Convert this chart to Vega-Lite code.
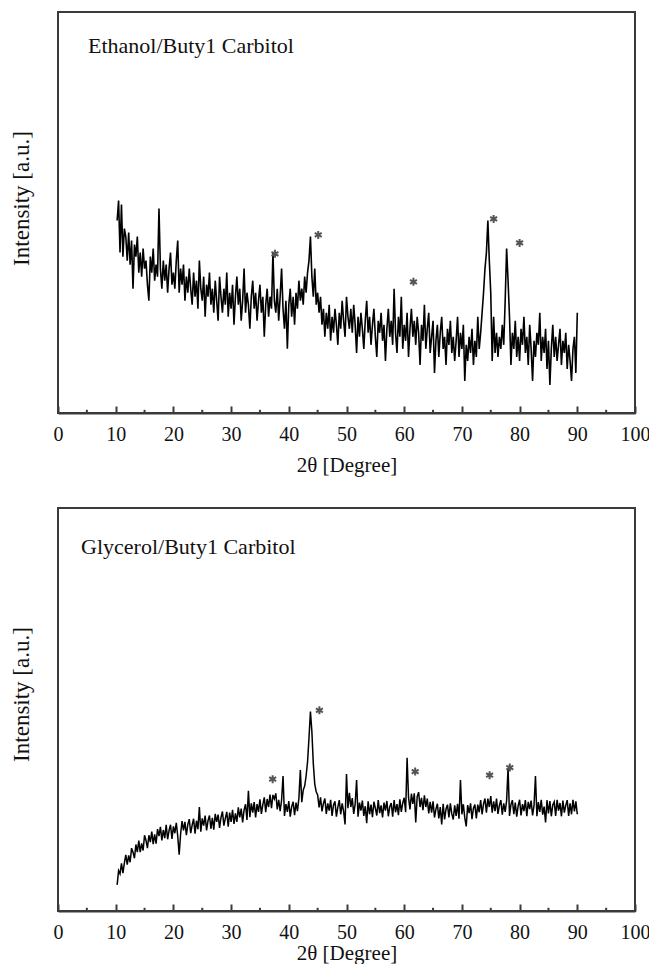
{
"$schema":"https://vega.github.io/schema/vega-lite/v6.json",
"padding":{"left":9,"top":11,"right":0,"bottom":0},
"spacing":31,
"config":{"font":"Liberation Serif","view":{"stroke":"#3a3a3a","strokeWidth":2},"axis":{"labelFont":"Liberation Serif","titleFont":"Liberation Serif","labelColor":"#111","titleColor":"#111","titleFontWeight":"normal","grid":false}},
"datasets":{
"xrd":[
{"x":10.25,"a":48,"b":6.5},{"x":10.5,"a":53,"b":10.0},{"x":10.75,"a":40,"b":9.2},{"x":11,"a":52,"b":11.8},
{"x":11.25,"a":39,"b":9.4},{"x":11.5,"a":46,"b":11.9},{"x":11.75,"a":44,"b":13.9},{"x":12,"a":38,"b":11.5},
{"x":12.25,"a":45,"b":13.8},{"x":12.5,"a":37,"b":12.1},{"x":12.75,"a":43,"b":15.6},{"x":13,"a":31,"b":14.6},
{"x":13.25,"a":42,"b":13.1},{"x":13.5,"a":39,"b":16.5},{"x":13.75,"a":44,"b":14.6},{"x":14,"a":35,"b":17.5},
{"x":14.25,"a":40,"b":14.6},{"x":14.5,"a":34,"b":16.8},{"x":14.75,"a":41,"b":15.0},{"x":15,"a":36,"b":18.8},
{"x":15.25,"a":38,"b":17.5},{"x":15.5,"a":32,"b":15.6},{"x":15.75,"a":28,"b":18.8},{"x":16,"a":39,"b":17.1},
{"x":16.25,"a":35,"b":19.7},{"x":16.5,"a":41,"b":16.6},{"x":16.75,"a":33,"b":19.0},{"x":17,"a":37,"b":16.7},
{"x":17.25,"a":34,"b":20.3},{"x":17.5,"a":51,"b":18.6},{"x":17.75,"a":36,"b":20.9},{"x":18,"a":31,"b":17.5},
{"x":18.25,"a":38,"b":20.1},{"x":18.5,"a":33,"b":18.1},{"x":18.75,"a":37,"b":21.4},{"x":19,"a":30,"b":17.8},
{"x":19.25,"a":36,"b":20.0},{"x":19.5,"a":40,"b":21.4},{"x":19.75,"a":32,"b":17.9},{"x":20,"a":35,"b":21.0},
{"x":20.25,"a":31,"b":19.3},{"x":20.5,"a":38,"b":21.9},{"x":20.75,"a":43,"b":18.6},{"x":21,"a":30,"b":14.0},
{"x":21.25,"a":36,"b":19.1},{"x":21.5,"a":32,"b":22.3},{"x":21.75,"a":37,"b":20.0},{"x":22,"a":28,"b":22.1},
{"x":22.25,"a":34,"b":18.8},{"x":22.5,"a":30,"b":21.5},{"x":22.75,"a":36,"b":22.8},{"x":23,"a":31,"b":19.3},
{"x":23.25,"a":27,"b":21.3},{"x":23.5,"a":35,"b":22.9},{"x":23.75,"a":29,"b":19.2},{"x":24,"a":33,"b":22.4},
{"x":24.25,"a":26,"b":20.3},{"x":24.5,"a":38,"b":25.8},{"x":24.75,"a":31,"b":19.7},{"x":25,"a":28,"b":23.0},
{"x":25.25,"a":34,"b":21.2},{"x":25.5,"a":24,"b":23.7},{"x":25.75,"a":32,"b":20.0},{"x":26,"a":29,"b":22.4},
{"x":26.25,"a":35,"b":23.7},{"x":26.5,"a":27,"b":20.4},{"x":26.75,"a":31,"b":23.1},{"x":27,"a":25,"b":20.2},
{"x":27.25,"a":33,"b":24.1},{"x":27.5,"a":28,"b":22.1},{"x":27.75,"a":23,"b":23.9},{"x":28,"a":34,"b":20.6},
{"x":28.25,"a":29,"b":23.2},{"x":28.5,"a":25,"b":24.7},{"x":28.75,"a":31,"b":21.2},{"x":29,"a":27,"b":23.0},
{"x":29.25,"a":35,"b":24.6},{"x":29.5,"a":24,"b":20.9},{"x":29.75,"a":30,"b":24.4},{"x":30,"a":26,"b":22.1},
{"x":30.25,"a":32,"b":25.1},{"x":30.5,"a":22,"b":21.6},{"x":30.75,"a":29,"b":24.2},{"x":31,"a":34,"b":22.1},
{"x":31.25,"a":27,"b":25.7},{"x":31.5,"a":31,"b":23.2},{"x":31.75,"a":23,"b":25.4},{"x":32,"a":28,"b":22.0},
{"x":32.25,"a":36,"b":25.1},{"x":32.5,"a":25,"b":26.5},{"x":32.75,"a":30,"b":22.6},{"x":33,"a":27,"b":29.8},
{"x":33.25,"a":21,"b":23.3},{"x":33.5,"a":29,"b":26.7},{"x":33.75,"a":33,"b":24.4},{"x":34,"a":26,"b":27.0},
{"x":34.25,"a":30,"b":23.2},{"x":34.5,"a":23,"b":26.5},{"x":34.75,"a":28,"b":24.6},{"x":35,"a":32,"b":27.7},
{"x":35.25,"a":25,"b":24.1},{"x":35.5,"a":29,"b":26.4},{"x":35.75,"a":19,"b":28.2},{"x":36,"a":27,"b":24.5},
{"x":36.25,"a":31,"b":27.8},{"x":36.5,"a":24,"b":25.8},{"x":36.75,"a":29,"b":28.9},{"x":37,"a":26,"b":25.5},
{"x":37.25,"a":40,"b":28.8},{"x":37.5,"a":28,"b":27.8},{"x":37.75,"a":25,"b":29.2},{"x":38,"a":31,"b":25.2},
{"x":38.25,"a":23,"b":27.6},{"x":38.5,"a":29,"b":24.8},{"x":38.75,"a":36,"b":27.5},{"x":39,"a":26,"b":33.5},
{"x":39.25,"a":21,"b":23.6},{"x":39.5,"a":28,"b":26.5},{"x":39.75,"a":16,"b":24.6},{"x":40,"a":27,"b":27.3},
{"x":40.25,"a":31,"b":23.4},{"x":40.5,"a":24,"b":25.9},{"x":40.75,"a":29,"b":27.1},{"x":41,"a":22,"b":23.8},
{"x":41.25,"a":30,"b":26.9},{"x":41.5,"a":26,"b":24.8},{"x":41.75,"a":33,"b":28.0},{"x":42,"a":28,"b":35.0},
{"x":42.25,"a":31,"b":27.0},{"x":42.5,"a":27,"b":30.0},{"x":42.75,"a":34,"b":31.0},{"x":43,"a":30,"b":33.5},
{"x":43.25,"a":35,"b":37.0},{"x":43.5,"a":38,"b":43.0},{"x":43.75,"a":44,"b":49.5},{"x":44,"a":34,"b":44.5},
{"x":44.25,"a":29,"b":36.5},{"x":44.5,"a":36,"b":31.5},{"x":44.75,"a":27,"b":29.6},{"x":45,"a":30,"b":28.8},
{"x":45.25,"a":25,"b":25.7},{"x":45.5,"a":29,"b":28.2},{"x":45.75,"a":22,"b":24.7},{"x":46,"a":26,"b":26.7},
{"x":46.25,"a":19,"b":27.9},{"x":46.5,"a":25,"b":24.1},{"x":46.75,"a":21,"b":26.7},{"x":47,"a":27,"b":24.9},
{"x":47.25,"a":18,"b":27.6},{"x":47.5,"a":24,"b":23.6},{"x":47.75,"a":20,"b":26.3},{"x":48,"a":26,"b":27.2},
{"x":48.25,"a":22,"b":23.4},{"x":48.5,"a":17,"b":25.8},{"x":48.75,"a":25,"b":27.5},{"x":49,"a":21,"b":24.0},
{"x":49.25,"a":28,"b":26.7},{"x":49.5,"a":23,"b":24.7},{"x":49.75,"a":19,"b":21.5},{"x":50,"a":29,"b":34.0},
{"x":50.25,"a":24,"b":25.5},{"x":50.5,"a":21,"b":29.3},{"x":50.75,"a":26,"b":25.8},{"x":51,"a":20,"b":28.0},
{"x":51.25,"a":27,"b":24.1},{"x":51.5,"a":22,"b":26.5},{"x":51.75,"a":15,"b":32.5},{"x":52,"a":24,"b":23.4},
{"x":52.25,"a":19,"b":26.9},{"x":52.5,"a":25,"b":24.9},{"x":52.75,"a":21,"b":27.4},{"x":53,"a":16,"b":23.6},
{"x":53.25,"a":23,"b":26.0},{"x":53.5,"a":28,"b":21.8},{"x":53.75,"a":20,"b":27.2},{"x":54,"a":24,"b":24.0},
{"x":54.25,"a":17,"b":26.4},{"x":54.5,"a":22,"b":23.3},{"x":54.75,"a":26,"b":27.1},{"x":55,"a":19,"b":25.5},
{"x":55.25,"a":14,"b":23.7},{"x":55.5,"a":23,"b":27.5},{"x":55.75,"a":20,"b":24.3},{"x":56,"a":25,"b":26.2},
{"x":56.25,"a":18,"b":23.2},{"x":56.5,"a":22,"b":26.9},{"x":56.75,"a":13,"b":24.9},{"x":57,"a":21,"b":27.3},
{"x":57.25,"a":26,"b":23.5},{"x":57.5,"a":19,"b":25.9},{"x":57.75,"a":23,"b":26.8},{"x":58,"a":17,"b":23.4},
{"x":58.25,"a":31,"b":27.5},{"x":58.5,"a":20,"b":24.5},{"x":58.75,"a":15,"b":26.5},{"x":59,"a":24,"b":23.8},
{"x":59.25,"a":19,"b":27.7},{"x":59.5,"a":29,"b":24.6},{"x":59.75,"a":16,"b":26.8},{"x":60,"a":22,"b":28.1},
{"x":60.25,"a":18,"b":24.5},{"x":60.5,"a":25,"b":38.0},{"x":60.75,"a":14,"b":28.2},{"x":61,"a":21,"b":25.2},
{"x":61.25,"a":26,"b":29.1},{"x":61.5,"a":19,"b":26.6},{"x":61.75,"a":23,"b":29.2},{"x":62,"a":17,"b":22.0},
{"x":62.25,"a":24,"b":28.4},{"x":62.5,"a":20,"b":29.5},{"x":62.75,"a":12,"b":25.8},{"x":63,"a":22,"b":28.1},
{"x":63.25,"a":18,"b":25.0},{"x":63.5,"a":27,"b":28.7},{"x":63.75,"a":16,"b":25.8},{"x":64,"a":21,"b":27.9},
{"x":64.25,"a":25,"b":24.2},{"x":64.5,"a":15,"b":27.1},{"x":64.75,"a":19,"b":24.4},{"x":65,"a":23,"b":27.2},
{"x":65.25,"a":10,"b":23.2},{"x":65.5,"a":18,"b":25.3},{"x":65.75,"a":22,"b":26.6},{"x":66,"a":14,"b":23.0},
{"x":66.25,"a":20,"b":25.8},{"x":66.5,"a":24,"b":21.5},{"x":66.75,"a":16,"b":26.6},{"x":67,"a":19,"b":22.7},
{"x":67.25,"a":12,"b":25.3},{"x":67.5,"a":21,"b":26.4},{"x":67.75,"a":17,"b":23.2},{"x":68,"a":23,"b":26.7},
{"x":68.25,"a":15,"b":24.1},{"x":68.5,"a":19,"b":22.7},{"x":68.75,"a":13,"b":26.2},{"x":69,"a":18,"b":23.6},
{"x":69.25,"a":24,"b":26.6},{"x":69.5,"a":14,"b":22.9},{"x":69.75,"a":20,"b":32.5},{"x":70,"a":16,"b":24.0},
{"x":70.25,"a":22,"b":26.5},{"x":70.5,"a":8,"b":23.1},{"x":70.75,"a":17,"b":21.0},{"x":71,"a":13,"b":26.3},
{"x":71.25,"a":19,"b":24.3},{"x":71.5,"a":15,"b":26.7},{"x":71.75,"a":21,"b":22.8},{"x":72,"a":12,"b":25.5},
{"x":72.25,"a":18,"b":26.4},{"x":72.5,"a":14,"b":23.0},{"x":72.75,"a":24,"b":26.4},{"x":73,"a":16,"b":24.5},
{"x":73.25,"a":20,"b":27.5},{"x":73.5,"a":25,"b":24.0},{"x":73.75,"a":30,"b":26.6},{"x":74,"a":36,"b":27.9},
{"x":74.25,"a":40,"b":24.4},{"x":74.5,"a":48,"b":27.9},{"x":74.75,"a":38,"b":25.8},{"x":75,"a":30,"b":28.5},
{"x":75.25,"a":13,"b":24.4},{"x":75.5,"a":24,"b":27.2},{"x":75.75,"a":15,"b":24.8},{"x":76,"a":20,"b":27.9},
{"x":76.25,"a":14,"b":24.1},{"x":76.5,"a":19,"b":26.2},{"x":76.75,"a":16,"b":27.5},{"x":77,"a":22,"b":23.9},
{"x":77.25,"a":17,"b":26.7},{"x":77.5,"a":28,"b":24.6},{"x":77.75,"a":41,"b":27.4},{"x":78,"a":33,"b":35.5},
{"x":78.25,"a":24,"b":23.6},{"x":78.5,"a":12,"b":26.4},{"x":78.75,"a":20,"b":27.5},{"x":79,"a":16,"b":24.0},
{"x":79.25,"a":23,"b":26.9},{"x":79.5,"a":14,"b":23.4},{"x":79.75,"a":19,"b":26.1},{"x":80,"a":13,"b":27.6},
{"x":80.25,"a":21,"b":23.7},{"x":80.5,"a":17,"b":26.5},{"x":80.75,"a":24,"b":24.8},{"x":81,"a":15,"b":27.5},
{"x":81.25,"a":19,"b":23.5},{"x":81.5,"a":12,"b":27.1},{"x":81.75,"a":22,"b":25.3},{"x":82,"a":16,"b":27.4},
{"x":82.25,"a":8,"b":23.7},{"x":82.5,"a":18,"b":26.2},{"x":82.75,"a":14,"b":33.5},{"x":83,"a":20,"b":23.5},
{"x":83.25,"a":17,"b":27.0},{"x":83.5,"a":25,"b":24.6},{"x":83.75,"a":13,"b":27.6},{"x":84,"a":19,"b":23.9},
{"x":84.25,"a":15,"b":25.9},{"x":84.5,"a":21,"b":22.0},{"x":84.75,"a":11,"b":27.5},{"x":85,"a":18,"b":24.2},
{"x":85.25,"a":7,"b":27.3},{"x":85.5,"a":16,"b":23.5},{"x":85.75,"a":22,"b":26.3},{"x":86,"a":14,"b":27.1},
{"x":86.25,"a":19,"b":23.6},{"x":86.5,"a":13,"b":27.6},{"x":86.75,"a":17,"b":24.9},{"x":87,"a":21,"b":26.8},
{"x":87.25,"a":12,"b":23.5},{"x":87.5,"a":18,"b":27.4},{"x":87.75,"a":15,"b":24.4},{"x":88,"a":20,"b":26.2},
{"x":88.25,"a":11,"b":27.5},{"x":88.5,"a":17,"b":23.6},{"x":88.75,"a":13,"b":26.7},{"x":89,"a":8,"b":24.0},
{"x":89.25,"a":16,"b":27.6},{"x":89.5,"a":19,"b":24.7},{"x":89.75,"a":10,"b":27.2},{"x":90,"a":25,"b":24.0}
],
"starsA":[{"x":37.6,"y":39.7},{"x":45.1,"y":44.4},{"x":61.6,"y":32.7},{"x":75.5,"y":48.4},{"x":80,"y":42.4}],
"starsB":[{"x":37.2,"y":32.7},{"x":45.3,"y":49.8},{"x":61.9,"y":34.6},{"x":74.8,"y":33.7},{"x":78.3,"y":35.6}],
"minor":[{"x":5},{"x":15},{"x":25},{"x":35},{"x":45},{"x":55},{"x":65},{"x":75},{"x":85},{"x":95}]
},
"vconcat":[
{
"width":577,"height":401,
"layer":[
{"data":{"name":"xrd"},"mark":{"type":"line","color":"#000","strokeWidth":1.6},
"encoding":{
"x":{"field":"x","type":"quantitative","scale":{"domain":[0,100],"nice":false},
"axis":{"values":[0,10,20,30,40,50,60,70,80,90,100],"tickSize":-7,"tickWidth":2,"tickColor":"#3a3a3a","domainColor":"#3a3a3a","domainWidth":2,"labelFontSize":20,"labelPadding":18,"labelFlush":false,"labelOverlap":false,"title":"2θ [Degree]","titleFontSize":21,"titlePadding":10}},
"y":{"field":"a","type":"quantitative","scale":{"domain":[0,100],"nice":false},
"axis":{"title":"Intensity [a.u.]","labels":false,"ticks":false,"domain":false,"titleFontSize":23,"titlePadding":25,"titleY":186,"titleAlign":"center"}}}},
{"data":{"name":"minor"},"mark":{"type":"rule","color":"#3a3a3a","strokeWidth":2},
"encoding":{"x":{"field":"x","type":"quantitative"},"y":{"datum":0},"y2":{"datum":0.8}}},
{"data":{"name":"starsA"},"mark":{"type":"point","shape":"M0,-1L0,1M-0.87,-0.5L0.87,0.5M-0.87,0.5L0.87,-0.5","filled":false,"stroke":"#555","strokeWidth":2,"size":64,"opacity":1},
"encoding":{"x":{"field":"x","type":"quantitative"},"y":{"field":"y","type":"quantitative"}}},
{"data":{"values":[{}]},"mark":{"type":"text","align":"left","baseline":"middle","fontSize":22,"font":"Liberation Serif","color":"#111"},
"encoding":{"x":{"datum":5.2},"y":{"datum":91.5},"text":{"value":"Ethanol/Buty1 Carbitol"}}}
]
},
{
"width":577,"height":403,
"layer":[
{"data":{"name":"xrd"},"mark":{"type":"line","color":"#000","strokeWidth":1.5},
"encoding":{
"x":{"field":"x","type":"quantitative","scale":{"domain":[0,100],"nice":false},
"axis":{"values":[0,10,20,30,40,50,60,70,80,90,100],"tickSize":-7,"tickWidth":2,"tickColor":"#3a3a3a","domainColor":"#3a3a3a","domainWidth":2,"labelFontSize":20,"labelPadding":18,"labelFlush":false,"labelOverlap":false,"title":"2θ [Degree]","titleFontSize":21,"titlePadding":0}},
"y":{"field":"b","type":"quantitative","scale":{"domain":[0,100],"nice":false},
"axis":{"title":"Intensity [a.u.]","labels":false,"ticks":false,"domain":false,"titleFontSize":23,"titlePadding":25,"titleY":186,"titleAlign":"center"}}}},
{"data":{"name":"minor"},"mark":{"type":"rule","color":"#3a3a3a","strokeWidth":2},
"encoding":{"x":{"field":"x","type":"quantitative"},"y":{"datum":0},"y2":{"datum":0.8}}},
{"data":{"name":"starsB"},"mark":{"type":"point","shape":"M0,-1L0,1M-0.87,-0.5L0.87,0.5M-0.87,0.5L0.87,-0.5","filled":false,"stroke":"#555","strokeWidth":2,"size":64,"opacity":1},
"encoding":{"x":{"field":"x","type":"quantitative"},"y":{"field":"y","type":"quantitative"}}},
{"data":{"values":[{}]},"mark":{"type":"text","align":"left","baseline":"middle","fontSize":22,"font":"Liberation Serif","color":"#111"},
"encoding":{"x":{"datum":4.0},"y":{"datum":90.3},"text":{"value":"Glycerol/Buty1 Carbitol"}}}
]
}
]
}
